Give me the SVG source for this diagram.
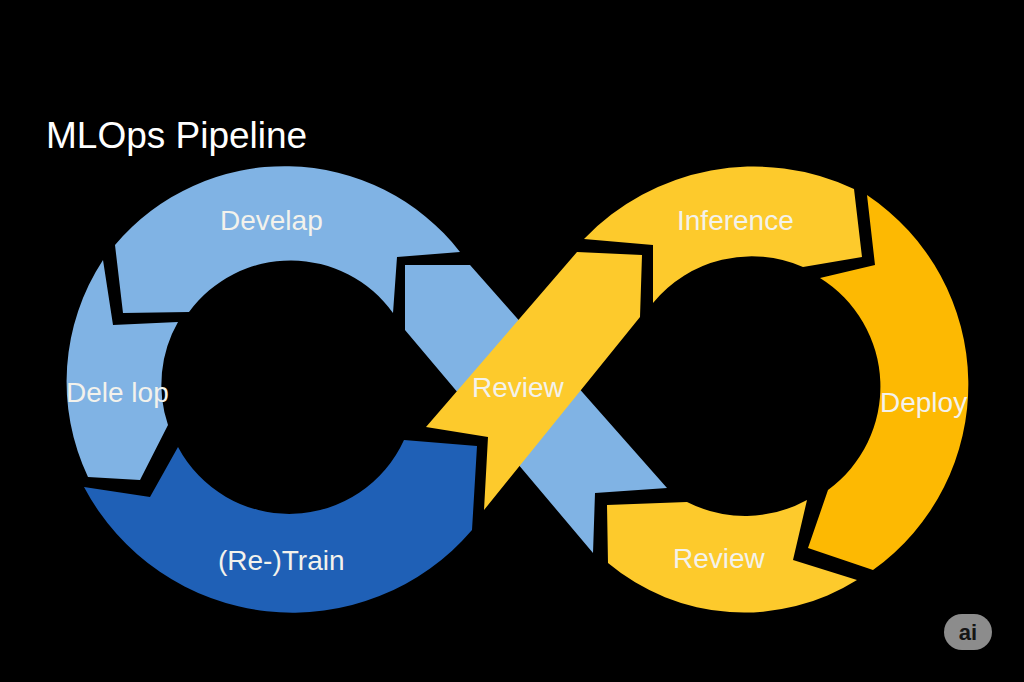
<svg xmlns="http://www.w3.org/2000/svg" width="1024" height="682" viewBox="0 0 1024 682">
<style>
.lb{fill:#80b3e4}
.db{fill:#1f60b6}
.yl{fill:#fdca2c}
.or{fill:#fdb902}
.lbl{font-family:"Liberation Sans",Arial,sans-serif;fill:#f3f2ec;font-size:28px}
.title{font-family:"Liberation Sans",Arial,sans-serif;fill:#ffffff;font-size:37px}
</style>
<rect width="1024" height="682" fill="#000"/>
<text class="title" x="46" y="148">MLOps Pipeline</text>

<g id="develop-top">
<path class="lb" d="M115 245 A222 222 0 0 1 460 252 L397 257 L393 313 A126 126 0 0 0 189 312 L123 313 Z"/>
<text class="lbl" x="220" y="230">Develap</text>
</g>

<g id="develop-left">
<path class="lb" d="M103 260 L113 325 L178 322 A126 126 0 0 0 168 425 L140 480 L88 477 A222 222 0 0 1 103 260 Z"/>
<text class="lbl" x="66" y="402" font-size="27">Dele lop</text>
</g>

<g id="retrain">
<path class="db" d="M84 487 L150 497 L178 447 A126 126 0 0 0 404 440 L477 446 L472 530 A236 236 0 0 1 84 487 Z"/>
<text class="lbl" x="218" y="570">(Re-)Train</text>
</g>

<g id="cross-blue">
<path class="lb" d="M405 265 L470 265 L667 488 L595 493 L593 553 L405 330 Z"/>
</g>

<g id="cross-review">
<path class="yl" d="M577 252 L642 255 L640 317 L484 510 L488 437 L426 427 Z"/>
<text class="lbl" x="472" y="397" font-size="27">Review</text>
</g>

<g id="inference">
<path class="yl" d="M584 239 A235 235 0 0 1 854 189 L862 257 L803 267 A128 128 0 0 0 653 303 L653 245 Z"/>
<text class="lbl" x="677" y="230" font-size="27">Inference</text>
</g>

<g id="deploy">
<path class="or" d="M867 195 A228 228 0 0 1 873 570 L808 548 L828 490 A128 128 0 0 0 820 278 L875 265 Z"/>
<text class="lbl" x="880" y="412" font-size="26">Deploy</text>
</g>

<g id="review-bottom">
<path class="yl" d="M607 505 L687 502 A128 128 0 0 0 807 500 L793 560 L857 580 A212 212 0 0 1 608 563 Z"/>
<text class="lbl" x="673" y="568" font-size="27">Review</text>
</g>

<g id="connectors"></g>

<g id="ai-badge">
<rect x="944" y="614" width="48" height="36" rx="18" ry="18" fill="#8c8c8c"/>
<text x="968" y="640" text-anchor="middle" font-family="Liberation Sans,Arial,sans-serif" font-size="22" font-weight="bold" fill="#151515">ai</text>
</g>
</svg>
